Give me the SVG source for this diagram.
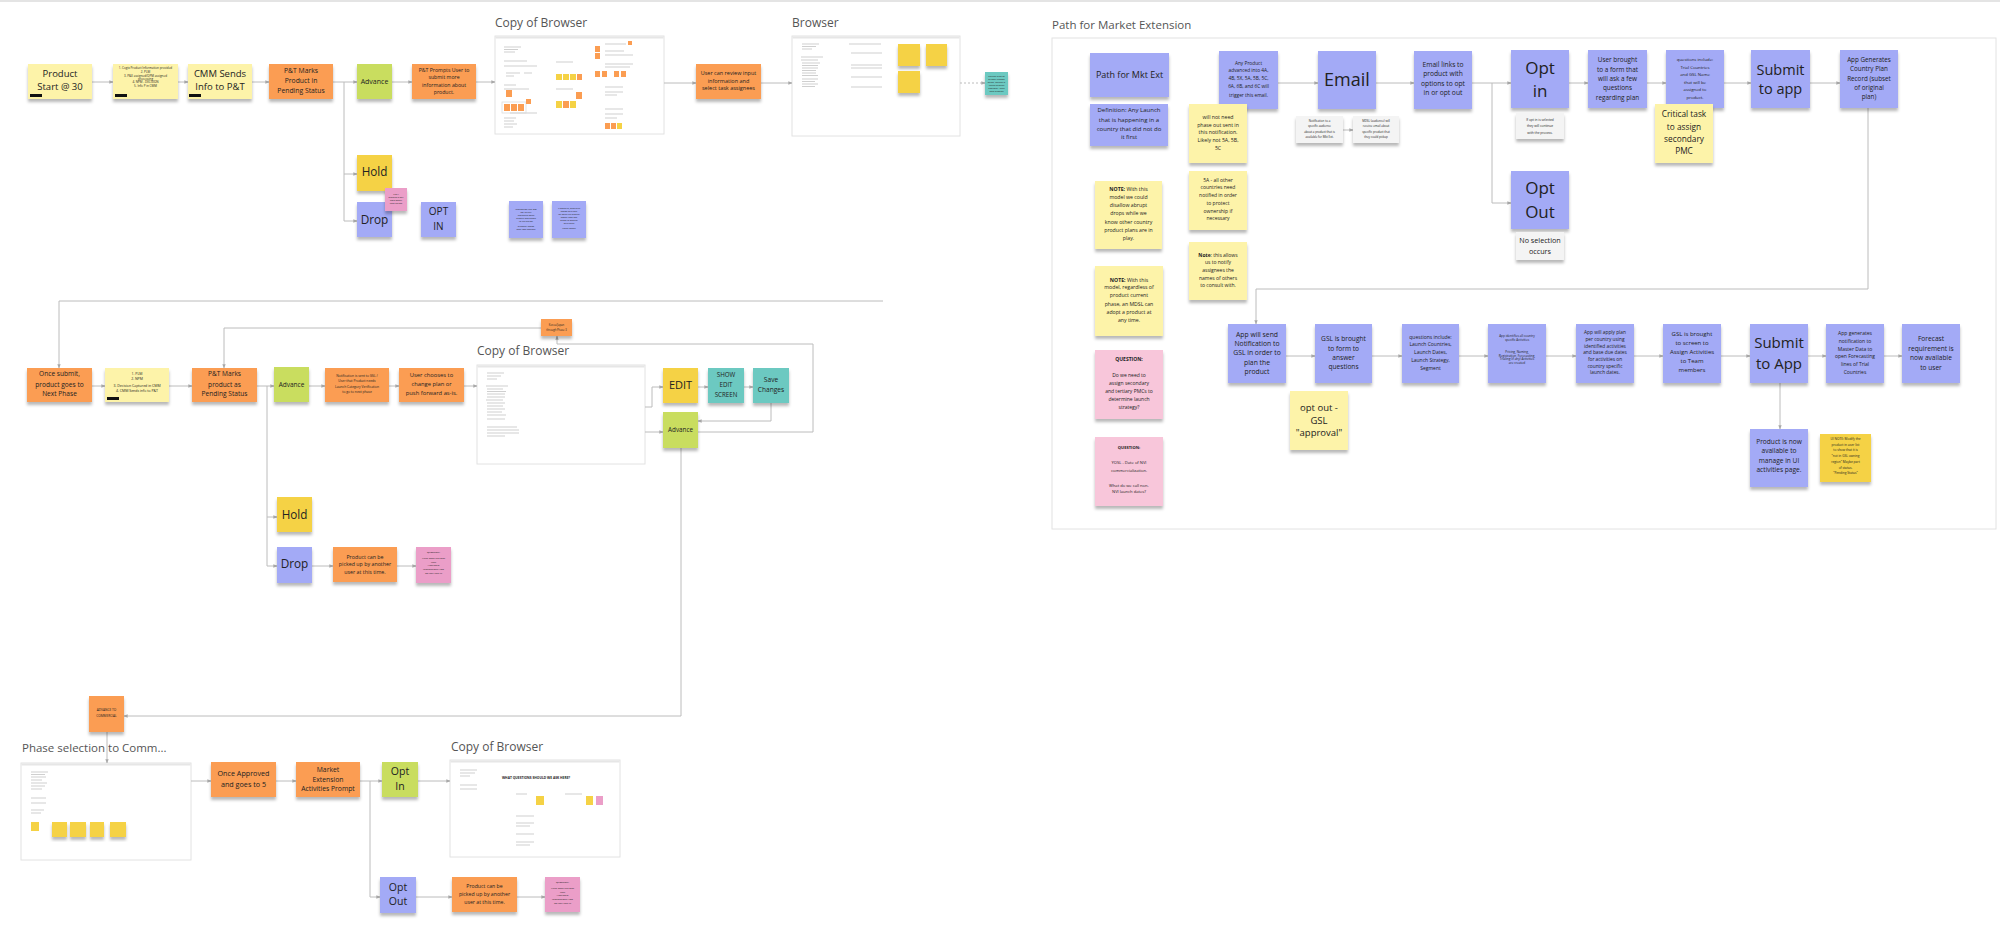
<svg xmlns="http://www.w3.org/2000/svg" width="2000" height="944" viewBox="0 0 2000 944">
<defs>
<style>
text{font-family:"Open Sans","Noto Sans","Liberation Sans",sans-serif;fill:#222;text-anchor:middle}
.lbl{font-size:12px;fill:#555;text-anchor:start}
.ly{fill:#fdf3a9}.or{fill:#fb9d52}.gr{fill:#c9dd5e}.dy{fill:#f5d245}.pu{fill:#a3aaf6}.te{fill:#6cc9c1}.pk{fill:#f8c6da}.pk2{fill:#eb9ec8}.wh{fill:#f4f4f4}
.n rect.s{filter:url(#sh)}
.frame{fill:#fff;stroke:#e2e2e2;stroke-width:1}
.bar{fill:#e6e6e6}
.ph{stroke:#cfcfcf;stroke-width:1;fill:none}
.c{fill:none;stroke:#bcbcbc;stroke-width:1;marker-end:url(#ah)}
.cd{fill:none;stroke:#bcbcbc;stroke-width:1;stroke-dasharray:2 2;marker-end:url(#ah)}
.tag{fill:#111}
b{font-weight:bold}
</style>
<filter id="sh" x="-20%" y="-20%" width="140%" height="150%">
<feDropShadow dx="0" dy="3" stdDeviation="1.6" flood-color="#000" flood-opacity="0.28"/>
</filter>
<marker id="ah" viewBox="0 0 6 6" refX="5.5" refY="3" markerWidth="4" markerHeight="4" orient="auto"><path d="M0,0.5 L6,3 L0,5.5z" fill="#a8a8a8"/></marker>
</defs>
<rect x="0" y="0" width="2000" height="944" fill="#fff"/>
<rect x="0" y="0" width="2000" height="2" fill="#e4e4e4"/>

<!-- ================= FRAMES ================= -->
<g id="frame-copy-browser-1">
<text class="lbl" x="495" y="26.5">Copy of Browser</text>
<rect class="frame" x="495" y="36" width="169" height="98"/>
<rect class="bar" x="495.5" y="36.5" width="168" height="2"/>
<path class="ph" d="M504,47H521M504,49.5H518M504,52H515M504,61H527M504,66H537M506,73H520M524,73H532M506,76H514M504,85H516M504,89H529M510,113H537M504,118H516M504,121H514M504,124H517M504,127H513M556,62H573M556,89H573M605,44H626M605,51H624M605,55H633M605,64H633M605,67H630M605,87H623M605,92H623M605,95H617M605,109H623M605,114H623M605,118H617"/>
<rect x="502" y="102" width="24" height="11" fill="none" stroke="#ddd" stroke-width="0.8"/>
<g class="or"><rect x="506" y="90" width="6" height="7"/><rect x="504" y="104" width="6" height="7"/><rect x="511" y="104" width="6" height="7"/><rect x="518" y="104" width="6" height="7"/><rect x="526" y="99" width="5" height="5"/><rect x="577" y="74" width="5" height="6"/><rect x="576" y="92" width="6" height="7"/><rect x="563" y="101" width="6" height="7"/><rect x="595" y="46" width="5" height="6"/><rect x="595" y="53" width="5" height="6"/><rect x="628" y="41" width="4" height="4"/><rect x="595" y="71" width="5" height="6"/><rect x="602" y="71" width="5" height="6"/><rect x="614" y="71" width="5" height="6"/><rect x="621" y="71" width="5" height="6"/><rect x="605" y="123" width="5" height="6"/><rect x="611" y="123" width="5" height="6"/></g>
<g class="dy"><rect x="556" y="74" width="6" height="6"/><rect x="563" y="74" width="6" height="6"/><rect x="570" y="74" width="6" height="6"/><rect x="556" y="101" width="6" height="7"/><rect x="570" y="101" width="6" height="7"/><rect x="617" y="123" width="5" height="6"/></g>
</g>

<g id="frame-browser">
<text class="lbl" x="792" y="26.5">Browser</text>
<rect class="frame" x="792" y="36" width="168" height="100"/>
<rect class="bar" x="792.5" y="36.5" width="167" height="2"/>
<path class="ph" d="M802,44H819M802,46.5H816M802,49H812M801,57H823M801,60H818M802,63H820M802,65.5H818M802,68H818M802,70.5H816M802,73H816M802,75.5H818M802,79H818M802,81.5H815M802,84H818M802,86.5H815M849,44H881M851,53H882M851,65H882M851,68H882M851,77H882M851,87H882"/>
<g class="n"><rect class="s dy" x="898" y="44" width="22" height="22"/><rect class="s dy" x="926" y="44" width="21" height="22"/><rect class="s dy" x="898" y="71" width="22" height="22"/></g>
</g>

<g id="frame-copy-browser-2">
<text class="lbl" x="477" y="355">Copy of Browser</text>
<rect class="frame" x="477" y="365" width="168" height="99"/>
<rect class="bar" x="477.5" y="365.5" width="167" height="2"/>
<path class="ph" d="M487,373H504M487,376H501M487,379H497M486,386H508M487,389H503M487,391.5H506M487,394H505M487,397H505M486,400H503M487,403H505M487,406H503M487,409H505M487,412H502M487,415H506M487,419H505M487,427H517M487,430H519M487,433H519M487,436H505"/>
</g>

<g id="frame-phase-selection">
<text class="lbl" x="22" y="752" style="font-size:11.5px">Phase selection to Comm...</text>
<rect class="frame" x="21" y="763" width="170" height="97"/>
<rect class="bar" x="21.5" y="763.5" width="169" height="2"/>
<path class="ph" d="M31,772H48M31,774.5H45M31,777H46M31,780H42M31,783H47M31,786H45M31,789H42M31,798H46M31,803H46M31,810H44M31,813H41"/>
<g class="n"><rect class="dy" x="31" y="822" width="8" height="9"/><rect class="s dy" x="52" y="822" width="15" height="15"/><rect class="s dy" x="70" y="822" width="16" height="15"/><rect class="s dy" x="90" y="822" width="14" height="15"/><rect class="s dy" x="110" y="822" width="16" height="15"/></g>
</g>

<g id="frame-copy-browser-3">
<text class="lbl" x="451" y="751">Copy of Browser</text>
<rect class="frame" x="450" y="760" width="170" height="97"/>
<rect class="bar" x="450.5" y="760.5" width="169" height="2"/>
<path class="ph" d="M460,770H477M460,773H475M460,776H470M460,785H477M460,789H477M516,794H527M565,794H582M516,816H534M516,823H534M516,826H530M516,834H534M516,842H534M516,845H530"/>
<text x="536" y="778.5" style="font-size:3.3px;font-weight:bold">WHAT QUESTIONS SHOULD WE ASK HERE?</text>
<rect class="dy" x="536" y="796" width="8" height="9"/><rect class="dy" x="586" y="796" width="7" height="9"/><rect class="pk2" x="596" y="796" width="7" height="9"/>
</g>

<g id="frame-market-extension">
<text class="lbl" x="1052" y="28.5" style="font-size:11.5px">Path for Market Extension</text>
<rect class="frame" x="1052" y="38" width="944" height="491"/>
</g>

<!-- ================= CONNECTORS ================= -->
<g id="connectors">
<path class="c" d="M92,82H113"/>
<path class="c" d="M178,82H188"/>
<path class="c" d="M252,82H269"/>
<path class="c" d="M333,82H357"/>
<path class="c" d="M344,82V174H357"/>
<path class="c" d="M344,174V221H357"/>
<path class="c" d="M392,82H412"/>
<path class="c" d="M476,82H495"/>
<path class="c" d="M664,83H696"/>
<path class="c" d="M761,83H792"/>
<path class="cd" d="M960,83H985"/>
<path class="c" d="M883,301H59V368"/>
<path class="c" d="M92,386H105"/>
<path class="c" d="M169,386H192"/>
<path class="c" d="M257,386H274"/>
<path class="c" d="M267,386V517H277"/>
<path class="c" d="M267,517V566H277"/>
<path class="c" d="M309,386H325"/>
<path class="c" d="M389,386H399"/>
<path class="c" d="M464,386H477"/>
<path class="c" d="M645,407H652V387H663"/>
<path class="c" d="M645,432H663"/>
<path class="c" d="M698,387H708"/>
<path class="c" d="M744,387H753"/>
<path class="c" d="M771,403V421H698"/>
<path class="c" d="M698,432H813V344H557V336"/>
<path class="c" d="M541,328H224V368"/>
<path class="c" d="M312,566H333"/>
<path class="c" d="M397,566H416"/>
<path class="c" d="M681,448V716H124"/>
<path class="c" d="M107,732V763"/>
<path class="c" d="M191,781H211"/>
<path class="c" d="M276,781H296"/>
<path class="c" d="M360,781H382"/>
<path class="c" d="M370,781V897H380"/>
<path class="c" d="M418,781H450"/>
<path class="c" d="M416,897H452"/>
<path class="c" d="M517,897H545"/>
<path class="c" d="M1278,83H1318"/>
<path class="c" d="M1376,83H1414"/>
<path class="c" d="M1343,130H1353"/>
<path class="c" d="M1472,83H1511"/>
<path class="c" d="M1492,83V203H1511"/>
<path class="c" d="M1569,83H1588"/>
<path class="c" d="M1647,83H1666"/>
<path class="c" d="M1724,83H1751"/>
<path class="c" d="M1810,83H1840"/>
<path class="c" d="M1868,108V289H1256V324"/>
<path class="c" d="M1286,356H1315"/>
<path class="c" d="M1372,356H1402"/>
<path class="c" d="M1459,356H1488"/>
<path class="c" d="M1546,356H1576"/>
<path class="c" d="M1634,356H1663"/>
<path class="c" d="M1721,356H1750"/>
<path class="c" d="M1808,356H1826"/>
<path class="c" d="M1884,356H1902"/>
<path class="c" d="M1780,383V429"/>
</g>

<!-- ================= TOP FLOW ================= -->
<g id="product-start" class="n"><rect class="s ly" x="28" y="64" width="64" height="35"/><rect class="tag" x="30" y="94" width="12" height="3"/>
<text style="font-size:9.5px"><tspan x="60" y="76.5">Product</tspan><tspan x="60" y="89.5">Start @ 30</tspan></text></g>

<g id="cogix-note" class="n"><rect class="s ly" x="113" y="64" width="65" height="35"/><rect class="tag" x="115" y="94" width="12" height="3"/>
<text style="font-size:3px"><tspan x="145.5" y="69">1. Cogix Product Information provided</tspan><tspan x="145.5" y="72.5">2. PLM</tspan><tspan x="145.5" y="76.5">3. P&amp;E assigned/OPM assigned</tspan><tspan x="145.5" y="79.5">processing</tspan><tspan x="145.5" y="83">4. NPM - DECISION</tspan><tspan x="145.5" y="86.5">5. Info P in CMM</tspan></text></g>

<g id="cmm-sends" class="n"><rect class="s ly" x="188" y="64" width="64" height="35"/><rect class="tag" x="189" y="94" width="12" height="3"/>
<text style="font-size:9.5px"><tspan x="220" y="76.5">CMM Sends</tspan><tspan x="220" y="89.5">Info to P&amp;T</tspan></text></g>

<g id="pt-marks-1" class="n"><rect class="s or" x="269" y="64" width="64" height="35"/>
<text style="font-size:6.8px"><tspan x="301" y="73.4">P&amp;T Marks</tspan><tspan x="301" y="83.4">Product in</tspan><tspan x="301" y="93.4">Pending Status</tspan></text></g>

<g id="advance-1" class="n"><rect class="s gr" x="357" y="64" width="35" height="35"/>
<text style="font-size:7px" x="374.5" y="83.5">Advance</text></g>

<g id="pt-prompts" class="n"><rect class="s or" x="412" y="64" width="64" height="35"/>
<text style="font-size:5.2px"><tspan x="444" y="71.8">P&amp;T Prompts User to</tspan><tspan x="444" y="79.1">submit more</tspan><tspan x="444" y="86.8">information about</tspan><tspan x="444" y="94.1">product.</tspan></text></g>

<g id="user-review" class="n"><rect class="s or" x="696" y="64" width="65" height="35"/>
<text style="font-size:5.5px"><tspan x="728.5" y="75.3">User can review input</tspan><tspan x="728.5" y="83">information and</tspan><tspan x="728.5" y="90.3">select task assignees</tspan></text></g>

<g id="teal-note" class="n"><rect class="s te" x="985" y="72" width="23" height="23"/>
<text style="font-size:2.3px"><tspan x="996.5" y="77">Launch Type to</tspan><tspan x="996.5" y="80">primary person</tspan><tspan x="996.5" y="83">select. Launch is</tspan><tspan x="996.5" y="86">linked through</tspan><tspan x="996.5" y="89">approval - then</tspan><tspan x="996.5" y="92">back product</tspan></text></g>

<g id="hold-1" class="n"><rect class="s dy" x="357" y="155" width="35" height="36"/>
<text style="font-size:11.7px" x="374.5" y="176.2">Hold</text></g>

<g id="drop-1" class="n"><rect class="s pu" x="357" y="202" width="35" height="35"/>
<text style="font-size:11.8px" x="374.5" y="224.2">Drop</text></g>

<g id="hold-note" class="n"><rect class="s pk2" x="385" y="188" width="22" height="23"/>
<text style="font-size:2.4px"><tspan x="396" y="195">NEW</tspan><tspan x="396" y="198">product's will</tspan><tspan x="396" y="201">hold about</tspan><tspan x="396" y="204">user action</tspan></text></g>

<g id="opt-in-1" class="n"><rect class="s pu" x="421" y="202" width="35" height="35"/>
<text style="font-size:10px"><tspan x="438.5" y="215.3">OPT</tspan><tspan x="438.5" y="230.3">IN</tspan></text></g>

<g id="purple-note-a" class="n"><rect class="s pu" x="509" y="201" width="34" height="37"/>
<text style="font-size:2.2px"><tspan x="526" y="210">Information that was</tspan><tspan x="526" y="213">not initially</tspan><tspan x="526" y="216">requested when</tspan><tspan x="526" y="219">product was added</tspan><tspan x="526" y="222">to the system</tspan><tspan x="526" y="227">Example: shows</tspan><tspan x="526" y="230">what was changed</tspan></text></g>

<g id="purple-note-b" class="n"><rect class="s pu" x="552" y="201" width="34" height="37"/>
<text style="font-size:2.2px"><tspan x="569" y="209">If added to, should be</tspan><tspan x="569" y="212">shown as a note</tspan><tspan x="569" y="215">for when the product</tspan><tspan x="569" y="218">moves from one</tspan><tspan x="569" y="221">phase to another</tspan><tspan x="569" y="224">with notes</tspan><tspan x="569" y="229">Notes logged</tspan></text></g>

<!-- ================= MIDDLE FLOW ================= -->
<g id="once-submit" class="n"><rect class="s or" x="27" y="368" width="65" height="34"/>
<text style="font-size:6.6px"><tspan x="59.5" y="376.4">Once submit,</tspan><tspan x="59.5" y="386.7">product goes to</tspan><tspan x="59.5" y="396.1">Next Phase</tspan></text></g>

<g id="plm-note" class="n"><rect class="s ly" x="105" y="368" width="64" height="34"/><rect class="tag" x="107" y="397" width="12" height="3"/>
<text style="font-size:3.5px"><tspan x="137" y="374.6">1. PLM</tspan><tspan x="137" y="380.3">2. NPM</tspan><tspan x="137" y="386.6">3. Decision Captured in CMM</tspan><tspan x="137" y="392">4. CMM Sends info to P&amp;T</tspan></text></g>

<g id="pt-marks-2" class="n"><rect class="s or" x="192" y="368" width="65" height="34"/>
<text style="font-size:6.6px"><tspan x="224.5" y="376.4">P&amp;T Marks</tspan><tspan x="224.5" y="386.7">product as</tspan><tspan x="224.5" y="396.1">Pending Status</tspan></text></g>

<g id="advance-2" class="n"><rect class="s gr" x="274" y="367" width="35" height="35"/>
<text style="font-size:6.5px" x="291.5" y="386.8">Advance</text></g>

<g id="notification-gsl" class="n"><rect class="s or" x="325" y="368" width="64" height="34"/>
<text style="font-size:3.3px"><tspan x="357" y="376.5">Notification is sent to GSL /</tspan><tspan x="357" y="381.9">User that Product needs</tspan><tspan x="357" y="387.5">Launch Category Verification</tspan><tspan x="357" y="392.9">to go to next phase</tspan></text></g>

<g id="user-chooses" class="n"><rect class="s or" x="399" y="368" width="65" height="34"/>
<text style="font-size:5.8px"><tspan x="431.5" y="377.3">User chooses to</tspan><tspan x="431.5" y="385.7">change plan or</tspan><tspan x="431.5" y="395">push forward as-is.</tspan></text></g>

<g id="korea-note" class="n"><rect class="s or" x="541" y="319" width="31" height="17"/>
<text style="font-size:2.7px"><tspan x="556.5" y="326">Korea/Japan</tspan><tspan x="556.5" y="331">through Phase 3</tspan></text></g>

<g id="edit" class="n"><rect class="s dy" x="663" y="368" width="35" height="35"/>
<text style="font-size:11px" x="680.5" y="388.9">EDIT</text></g>

<g id="show-edit" class="n"><rect class="s te" x="708" y="368" width="36" height="35"/>
<text style="font-size:6.2px"><tspan x="726" y="377.2">SHOW</tspan><tspan x="726" y="386.5">EDIT</tspan><tspan x="726" y="396.9">SCREEN</tspan></text></g>

<g id="save-changes" class="n"><rect class="s te" x="753" y="368" width="36" height="35"/>
<text style="font-size:6.6px"><tspan x="771" y="382.3">Save</tspan><tspan x="771" y="392.3">Changes</tspan></text></g>

<g id="advance-3" class="n"><rect class="s gr" x="663" y="412" width="35" height="36"/>
<text style="font-size:6.3px" x="680.5" y="432.2">Advance</text></g>

<g id="hold-2" class="n"><rect class="s dy" x="277" y="497" width="35" height="35"/>
<text style="font-size:11.7px" x="294.5" y="519.2">Hold</text></g>

<g id="drop-2" class="n"><rect class="s pu" x="277" y="547" width="35" height="36"/>
<text style="font-size:11.8px" x="294.5" y="568.2">Drop</text></g>

<g id="picked-up-1" class="n"><rect class="s or" x="333" y="547" width="64" height="35"/>
<text style="font-size:5.3px"><tspan x="365" y="558.6">Product can be</tspan><tspan x="365" y="565.9">picked up by another</tspan><tspan x="365" y="573.6">user at this time.</tspan></text></g>

<g id="question-1" class="n"><rect class="s pk2" x="416" y="547" width="35" height="36"/>
<text style="font-size:2.5px"><tspan x="433.5" y="553">QUESTION:</tspan><tspan x="433.5" y="559">What does this look</tspan><tspan x="433.5" y="562.5">like?</tspan><tspan x="433.5" y="566">Additional</tspan><tspan x="433.5" y="570">information? How</tspan><tspan x="433.5" y="574">do they find it?</tspan></text></g>

<!-- ================= BOTTOM FLOW ================= -->
<g id="advance-commercial" class="n"><rect class="s or" x="89" y="696" width="35" height="36"/>
<text style="font-size:3.2px"><tspan x="106.5" y="711.2">ADVANCE TO</tspan><tspan x="106.5" y="717.2">COMMERCIAL</tspan></text></g>

<g id="once-approved" class="n"><rect class="s or" x="211" y="762" width="65" height="35"/>
<text style="font-size:7.2px"><tspan x="243.5" y="775.9">Once Approved</tspan><tspan x="243.5" y="786.9">and goes to 5</tspan></text></g>

<g id="market-extension-prompt" class="n"><rect class="s or" x="296" y="762" width="64" height="35"/>
<text style="font-size:6.8px"><tspan x="328" y="771.6">Market</tspan><tspan x="328" y="781.6">Extension</tspan><tspan x="328" y="790.6">Activities Prompt</tspan></text></g>

<g id="opt-in-2" class="n"><rect class="s gr" x="382" y="762" width="36" height="35"/>
<text style="font-size:10.5px"><tspan x="400" y="775.4">Opt</tspan><tspan x="400" y="790.4">In</tspan></text></g>

<g id="opt-out-2" class="n"><rect class="s pu" x="380" y="877" width="36" height="36"/>
<text style="font-size:10.5px"><tspan x="398" y="891">Opt</tspan><tspan x="398" y="905.4">Out</tspan></text></g>

<g id="picked-up-2" class="n"><rect class="s or" x="452" y="877" width="65" height="35"/>
<text style="font-size:5.2px"><tspan x="484.5" y="887.9">Product can be</tspan><tspan x="484.5" y="896.2">picked up by another</tspan><tspan x="484.5" y="903.6">user at this time.</tspan></text></g>

<g id="question-2" class="n"><rect class="s pk2" x="545" y="877" width="35" height="35"/>
<text style="font-size:2.5px"><tspan x="562.5" y="883">QUESTION:</tspan><tspan x="562.5" y="889">What does this look</tspan><tspan x="562.5" y="892.5">like?</tspan><tspan x="562.5" y="896">Additional</tspan><tspan x="562.5" y="900">information? How</tspan><tspan x="562.5" y="904">do they find it?</tspan></text></g>

<!-- ================= MARKET EXTENSION PANEL ================= -->
<g id="path-mkt-ext" class="n"><rect class="s pu" x="1090" y="53" width="79" height="44"/>
<text style="font-size:9px" x="1129.5" y="78.2">Path for Mkt Ext</text></g>

<g id="definition" class="n"><rect class="s pu" x="1090" y="104" width="78" height="42"/>
<text style="font-size:6px"><tspan x="1129" y="112.4">Definition: Any Launch</tspan><tspan x="1129" y="122.1">that is happening in a</tspan><tspan x="1129" y="131.1">country that did not do</tspan><tspan x="1129" y="139.4">it first</tspan></text></g>

<g id="any-product" class="n"><rect class="s pu" x="1219" y="51" width="59" height="58"/>
<text style="font-size:4.8px"><tspan x="1248.5" y="64.7">Any Product</tspan><tspan x="1248.5" y="72.4">advanced into 4A,</tspan><tspan x="1248.5" y="80.4">4B, 5X, 5A, 5B, 5C,</tspan><tspan x="1248.5" y="88.4">6A, 6B, and 6C will</tspan><tspan x="1248.5" y="96.7">trigger this email.</tspan></text></g>

<g id="email" class="n"><rect class="s pu" x="1318" y="51" width="58" height="58"/>
<text style="font-size:18px" x="1347" y="85.6">Email</text></g>

<g id="email-links" class="n"><rect class="s pu" x="1414" y="51" width="58" height="58"/>
<text style="font-size:6.7px"><tspan x="1443" y="66.6">Email links to</tspan><tspan x="1443" y="76">product with</tspan><tspan x="1443" y="85.6">options to opt</tspan><tspan x="1443" y="95">in or opt out</tspan></text></g>

<g id="notif-audience" class="n"><rect class="s wh" x="1296" y="116" width="47" height="27"/>
<text style="font-size:2.9px"><tspan x="1319.5" y="121.8">Notification to a</tspan><tspan x="1319.5" y="127.1">specific audience</tspan><tspan x="1319.5" y="132.8">about a product that is</tspan><tspan x="1319.5" y="138.1">available for Mkt Ext.</tspan></text></g>

<g id="mdsl-audience" class="n"><rect class="s wh" x="1353" y="116" width="46" height="27"/>
<text style="font-size:2.9px"><tspan x="1376" y="121.8">MDSL (audience) will</tspan><tspan x="1376" y="127.1">receive email about</tspan><tspan x="1376" y="132.8">specific product that</tspan><tspan x="1376" y="138.1">they could pickup</tspan></text></g>

<g id="will-not-need" class="n"><rect class="s ly" x="1189" y="104" width="58" height="59"/>
<text style="font-size:5.2px"><tspan x="1218" y="118.6">will not need</tspan><tspan x="1218" y="126.6">phase out sent in</tspan><tspan x="1218" y="134.2">this notification.</tspan><tspan x="1218" y="141.9">Likely not 5A, 5B,</tspan><tspan x="1218" y="149.6">5C</tspan></text></g>

<g id="five-a" class="n"><rect class="s ly" x="1189" y="171" width="58" height="59"/>
<text style="font-size:5px"><tspan x="1218" y="181.8">5A - all other</tspan><tspan x="1218" y="189.1">countries need</tspan><tspan x="1218" y="196.8">notified in order</tspan><tspan x="1218" y="204.8">to protect</tspan><tspan x="1218" y="212.5">ownership if</tspan><tspan x="1218" y="220.1">necessary</tspan></text></g>

<g id="note-notify" class="n"><rect class="s ly" x="1189" y="242" width="58" height="58"/>
<text style="font-size:5px"><tspan x="1218" y="256.5"><tspan font-weight="bold">Note</tspan>: this allows</tspan><tspan x="1218" y="264.1">us to notify</tspan><tspan x="1218" y="272.1">assignees the</tspan><tspan x="1218" y="279.8">names of others</tspan><tspan x="1218" y="287.1">to consult with.</tspan></text></g>

<g id="note-disallow" class="n"><rect class="s ly" x="1095" y="181" width="67" height="68"/>
<text style="font-size:5.2px"><tspan x="1128.5" y="190.8"><tspan font-weight="bold">NOTE:</tspan> With this</tspan><tspan x="1128.5" y="199.1">model we could</tspan><tspan x="1128.5" y="207.1">disallow abrupt</tspan><tspan x="1128.5" y="215.1">drops while we</tspan><tspan x="1128.5" y="223.5">know other country</tspan><tspan x="1128.5" y="231.8">product plans are in</tspan><tspan x="1128.5" y="239.5">play.</tspan></text></g>

<g id="note-adopt" class="n"><rect class="s ly" x="1095" y="266" width="68" height="70"/>
<text style="font-size:5.2px"><tspan x="1129" y="281.5"><tspan font-weight="bold">NOTE:</tspan> With this</tspan><tspan x="1129" y="289.1">model, regardless of</tspan><tspan x="1129" y="297.1">product current</tspan><tspan x="1129" y="305.5">phase, an MDSL can</tspan><tspan x="1129" y="313.5">adopt a product at</tspan><tspan x="1129" y="321.8">any time.</tspan></text></g>

<g id="question-pmc" class="n"><rect class="s pk" x="1095" y="350" width="68" height="69"/>
<text style="font-size:5px"><tspan x="1129" y="360.8" font-weight="bold">QUESTION:</tspan><tspan x="1129" y="377.1">Do we need to</tspan><tspan x="1129" y="384.8">assign secondary</tspan><tspan x="1129" y="392.8">and tertiary PMCs to</tspan><tspan x="1129" y="400.8">determine launch</tspan><tspan x="1129" y="409.1">strategy?</tspan></text></g>

<g id="question-nvi" class="n"><rect class="s pk" x="1095" y="437" width="68" height="69"/>
<text style="font-size:4.1px"><tspan x="1129" y="449.2" font-weight="bold">QUESTION:</tspan><tspan x="1129" y="464.2">YOSL - Date of NVI</tspan><tspan x="1129" y="471.8">commercialization.</tspan><tspan x="1129" y="486.5">What do we call non-</tspan><tspan x="1129" y="493.2">NVI launch dates?</tspan></text></g>

<g id="opt-in-3" class="n"><rect class="s pu" x="1511" y="50" width="58" height="58"/>
<text style="font-size:17px"><tspan x="1540" y="74.3">Opt</tspan><tspan x="1540" y="97">in</tspan></text></g>

<g id="opt-in-note" class="n"><rect class="s wh" x="1516" y="113" width="48" height="26"/>
<text style="font-size:3.2px"><tspan x="1540" y="120.5">If opt in is selected</tspan><tspan x="1540" y="127.2">they will continue</tspan><tspan x="1540" y="133.5">with the process.</tspan></text></g>

<g id="opt-out-3" class="n"><rect class="s pu" x="1511" y="171" width="58" height="58"/>
<text style="font-size:17px"><tspan x="1540" y="194.3">Opt</tspan><tspan x="1540" y="217.7">Out</tspan></text></g>

<g id="no-selection" class="n"><rect class="s wh" x="1516" y="232" width="48" height="28"/>
<text style="font-size:7.2px"><tspan x="1540" y="243.2">No selection</tspan><tspan x="1540" y="253.5">occurs</tspan></text></g>

<g id="user-brought" class="n"><rect class="s pu" x="1588" y="50" width="59" height="58"/>
<text style="font-size:6.4px"><tspan x="1617.5" y="62.2">User brought</tspan><tspan x="1617.5" y="71.5">to a form that</tspan><tspan x="1617.5" y="80.9">will ask a few</tspan><tspan x="1617.5" y="90.2">questions</tspan><tspan x="1617.5" y="99.5">regarding plan</tspan></text></g>

<g id="questions-trial" class="n"><rect class="s pu" x="1666" y="50" width="58" height="58"/>
<text style="font-size:4.3px"><tspan x="1695" y="61">questions include:</tspan><tspan x="1695" y="68.5">Trial Countries</tspan><tspan x="1695" y="76">and GSL Name</tspan><tspan x="1695" y="83.5">that will be</tspan><tspan x="1695" y="91">assigned to</tspan><tspan x="1695" y="98.5">product.</tspan></text></g>

<g id="critical-task" class="n"><rect class="s ly" x="1655" y="104" width="58" height="59"/>
<text style="font-size:8.3px"><tspan x="1684" y="117.2">Critical task</tspan><tspan x="1684" y="129.6">to assign</tspan><tspan x="1684" y="141.9">secondary</tspan><tspan x="1684" y="153.6">PMC</tspan></text></g>

<g id="submit-to-app-1" class="n"><rect class="s pu" x="1751" y="50" width="59" height="58"/>
<text style="font-size:14.5px"><tspan x="1780.5" y="74.8">Submit</tspan><tspan x="1780.5" y="94.4">to app</tspan></text></g>

<g id="app-generates-plan" class="n"><rect class="s pu" x="1840" y="50" width="58" height="58"/>
<text style="font-size:6.3px"><tspan x="1869" y="62.1">App Generates</tspan><tspan x="1869" y="71.4">Country Plan</tspan><tspan x="1869" y="80.8">Record (subset</tspan><tspan x="1869" y="90.1">of original</tspan><tspan x="1869" y="99.4">plan)</tspan></text></g>

<g id="app-send-notification" class="n"><rect class="s pu" x="1228" y="324" width="58" height="59"/>
<text style="font-size:6.8px"><tspan x="1257" y="336.6">App will send</tspan><tspan x="1257" y="346">Notification  to</tspan><tspan x="1257" y="355.3">GSL in order to</tspan><tspan x="1257" y="364.6">plan the</tspan><tspan x="1257" y="374">product</tspan></text></g>

<g id="gsl-form" class="n"><rect class="s pu" x="1315" y="324" width="57" height="59"/>
<text style="font-size:6.6px"><tspan x="1343.5" y="341.3">GSL is brought</tspan><tspan x="1343.5" y="350.6">to form to</tspan><tspan x="1343.5" y="360">answer</tspan><tspan x="1343.5" y="369.3">questions</tspan></text></g>

<g id="questions-launch" class="n"><rect class="s pu" x="1402" y="324" width="57" height="59"/>
<text style="font-size:5px"><tspan x="1430.5" y="338.5">questions include:</tspan><tspan x="1430.5" y="346.1">Launch Countries,</tspan><tspan x="1430.5" y="353.5">Launch Dates,</tspan><tspan x="1430.5" y="361.8">Launch Strategy,</tspan><tspan x="1430.5" y="370.1">Segment</tspan></text></g>

<g id="app-identifies" class="n"><rect class="s pu" x="1488" y="324" width="58" height="59"/>
<text style="font-size:3.1px"><tspan x="1517" y="336.8">App identifies all country</tspan><tspan x="1517" y="341">specific Activities</tspan><tspan x="1517" y="352.8">Pricing, Naming,</tspan><tspan x="1517" y="356.8">Registration, Forecasting,</tspan><tspan x="1517" y="360.4">Trialing (if any) Activities</tspan><tspan x="1517" y="364.4">are created</tspan></text></g>

<g id="app-apply-plan" class="n"><rect class="s pu" x="1576" y="324" width="58" height="59"/>
<text style="font-size:4.8px"><tspan x="1605" y="334">App will apply plan</tspan><tspan x="1605" y="341">per country using</tspan><tspan x="1605" y="347.7">identified activities</tspan><tspan x="1605" y="354.4">and base due dates</tspan><tspan x="1605" y="361.4">for activities on</tspan><tspan x="1605" y="368.4">country specific</tspan><tspan x="1605" y="374.4">launch dates.</tspan></text></g>

<g id="gsl-screen" class="n"><rect class="s pu" x="1663" y="324" width="58" height="59"/>
<text style="font-size:6px"><tspan x="1692" y="336.4">GSL is brought</tspan><tspan x="1692" y="345.4">to screen to</tspan><tspan x="1692" y="354.1">Assign Activities</tspan><tspan x="1692" y="362.8">to Team</tspan><tspan x="1692" y="372.1">members</tspan></text></g>

<g id="submit-to-app-2" class="n"><rect class="s pu" x="1750" y="324" width="58" height="59"/>
<text style="font-size:15px"><tspan x="1779" y="348.3">Submit</tspan><tspan x="1779" y="368.9">to App</tspan></text></g>

<g id="app-generates-notification" class="n"><rect class="s pu" x="1826" y="324" width="58" height="59"/>
<text style="font-size:5px"><tspan x="1855" y="334.5">App generates</tspan><tspan x="1855" y="342.5">notification to</tspan><tspan x="1855" y="350.5">Master Data to</tspan><tspan x="1855" y="358.1">open Forecasting</tspan><tspan x="1855" y="365.8">lines of Trial</tspan><tspan x="1855" y="373.5">Countries</tspan></text></g>

<g id="forecast-requirement" class="n"><rect class="s pu" x="1902" y="324" width="58" height="59"/>
<text style="font-size:6.6px"><tspan x="1931" y="341.3">Forecast</tspan><tspan x="1931" y="350.6">requirement is</tspan><tspan x="1931" y="360">now available</tspan><tspan x="1931" y="369.6">to user</tspan></text></g>

<g id="product-available" class="n"><rect class="s pu" x="1750" y="429" width="58" height="58"/>
<text style="font-size:6.6px"><tspan x="1779" y="444">Product is now</tspan><tspan x="1779" y="453.3">available to</tspan><tspan x="1779" y="463">manage in UI</tspan><tspan x="1779" y="472.3">activities page.</tspan></text></g>

<g id="ui-note" class="n"><rect class="s dy" x="1820" y="434" width="51" height="48"/>
<text style="font-size:3.2px"><tspan x="1845.5" y="440.4">UI NOTE: Modify the</tspan><tspan x="1845.5" y="445.8">product in user list</tspan><tspan x="1845.5" y="451.1">to show that it is</tspan><tspan x="1845.5" y="457.1">"not in GSL owning</tspan><tspan x="1845.5" y="463.1">region" Maybe part</tspan><tspan x="1845.5" y="468.8">of status.</tspan><tspan x="1845.5" y="474.4">"Pending Status"</tspan></text></g>

<g id="opt-out-gsl" class="n"><rect class="s ly" x="1290" y="391" width="58" height="59"/>
<text style="font-size:9.5px"><tspan x="1319" y="410.6">opt out -</tspan><tspan x="1319" y="423.6">GSL</tspan><tspan x="1319" y="436">"approval"</tspan></text></g>
</svg>
